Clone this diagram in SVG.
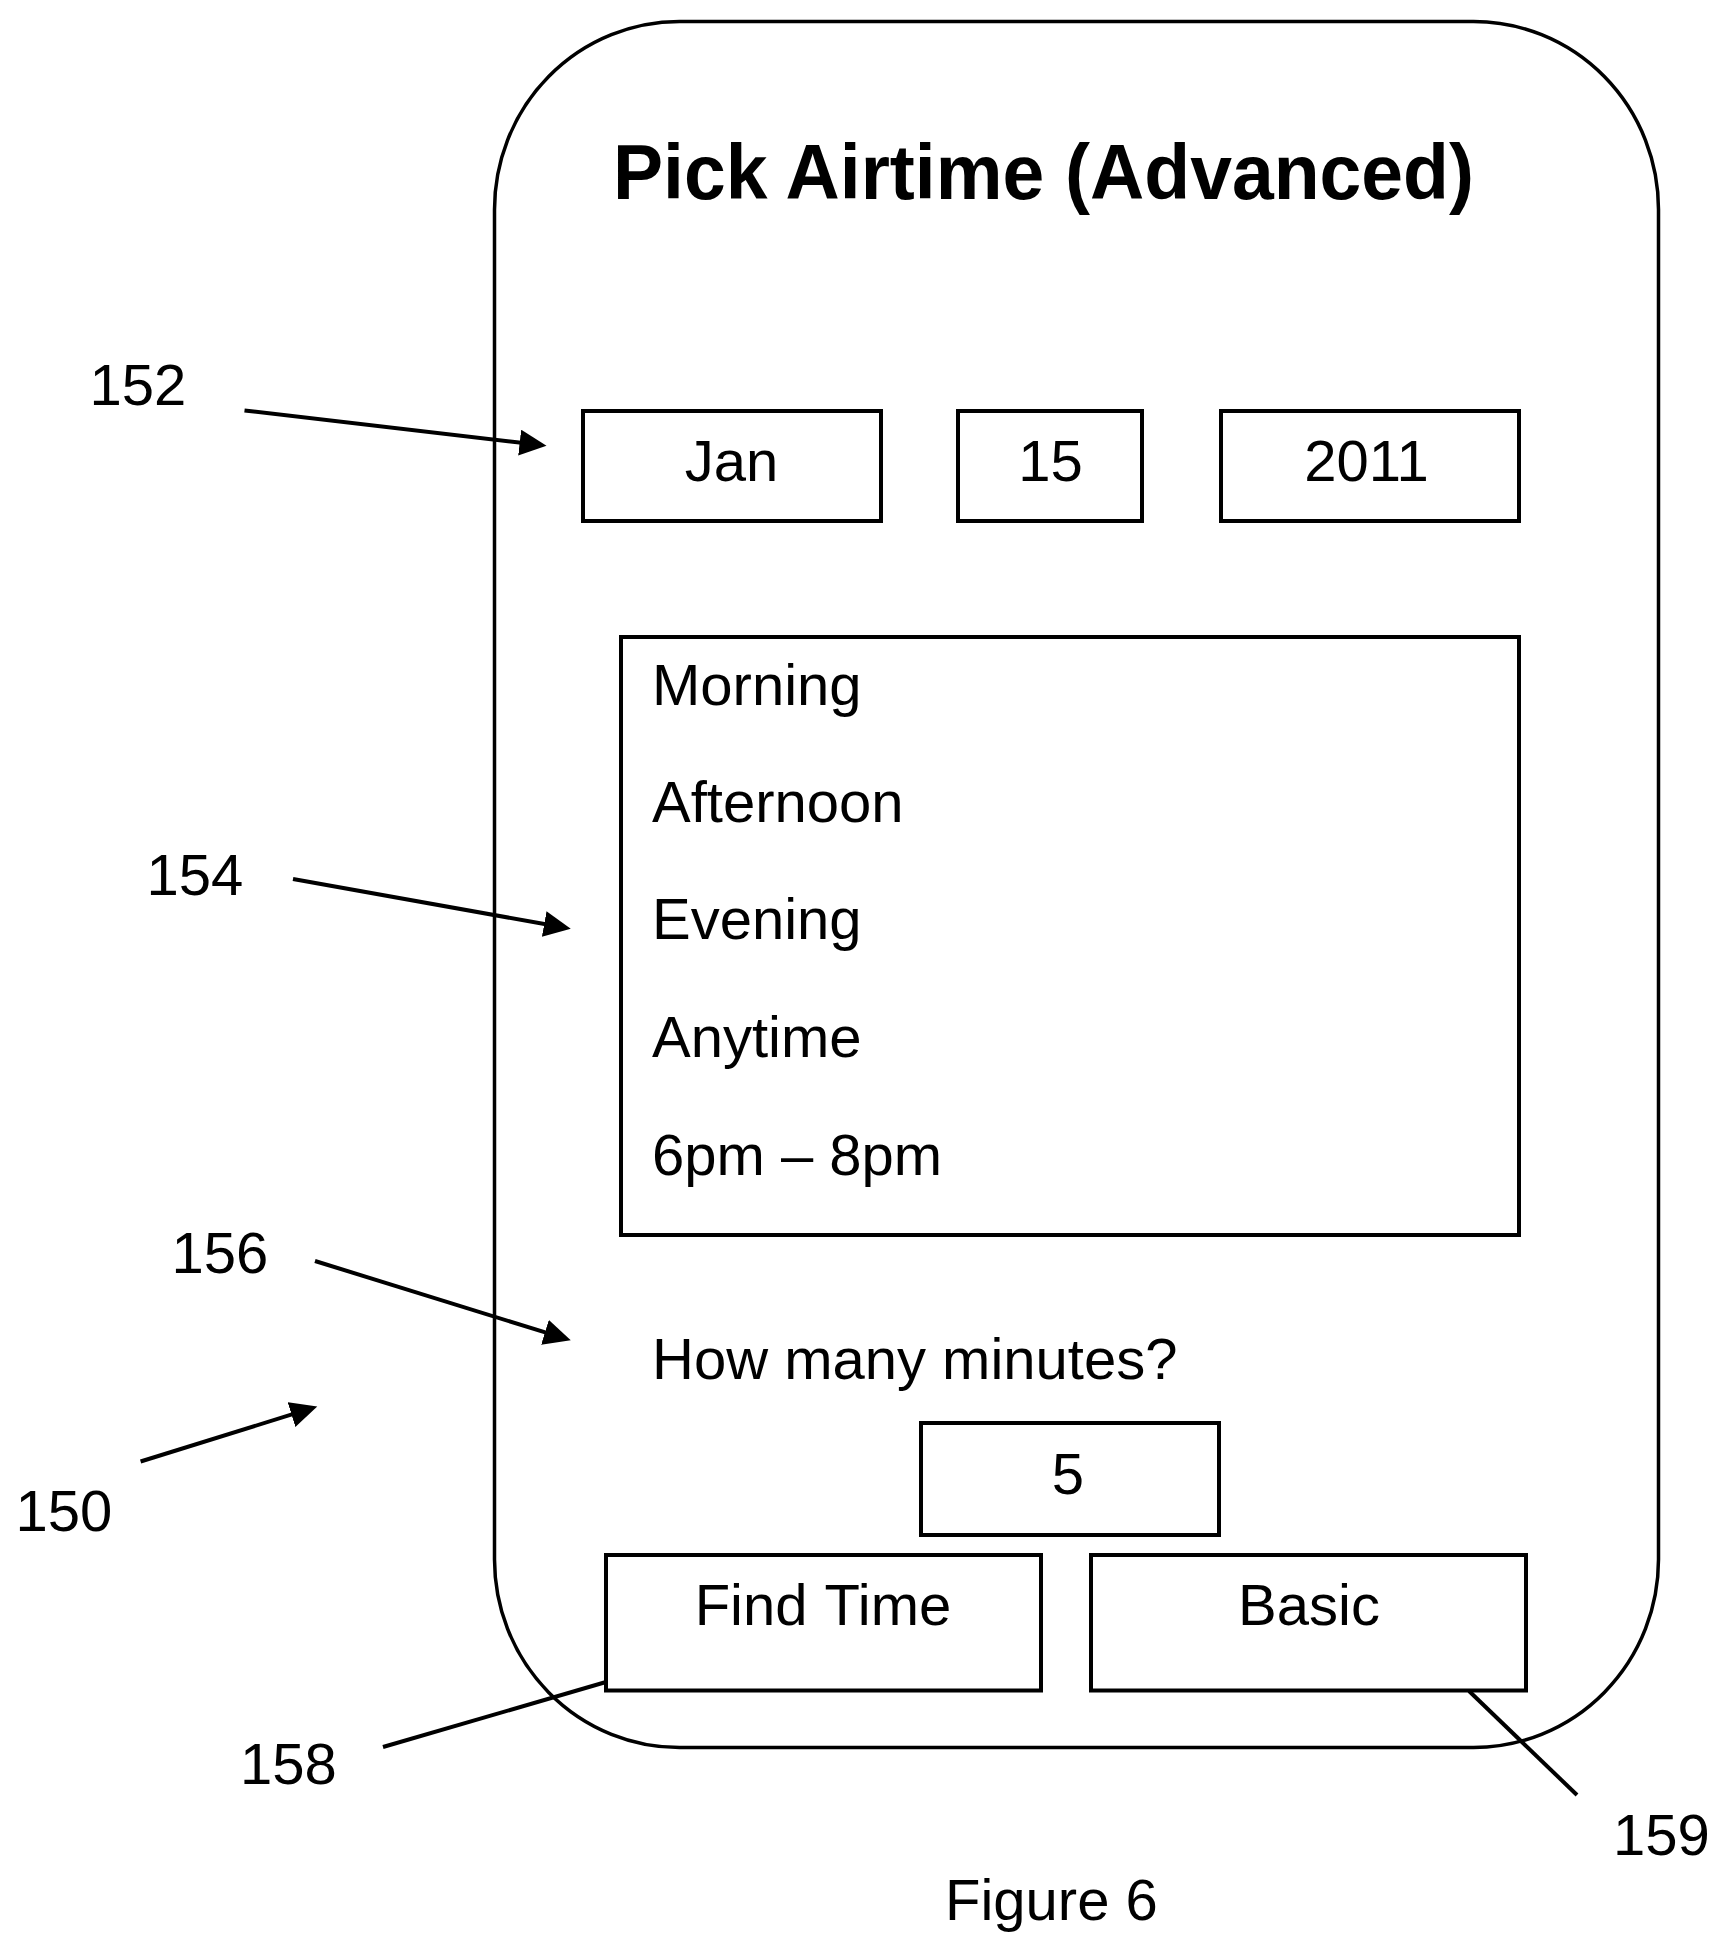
<svg xmlns="http://www.w3.org/2000/svg" width="1728" height="1953" viewBox="0 0 1728 1953">
<style>
text{font-family:"Liberation Sans",Arial,sans-serif;font-size:58px;fill:#000}
.c{text-anchor:middle}
.t{font-weight:bold;font-size:78px}
.b{fill:none;stroke:#000;stroke-width:4}
.o{fill:none;stroke:#000;stroke-width:3.5}
.l{fill:none;stroke:#000;stroke-width:4}
</style>
<defs><marker id="a" markerUnits="userSpaceOnUse" markerWidth="32" markerHeight="30" refX="13" refY="13" orient="auto"><path d="M0,0L27,13L0,26z" fill="#000"/></marker></defs>
<rect width="1728" height="1953" fill="#fff"/>
<g id="phone"><rect class="o" x="494.500" y="21.500" width="1164" height="1726" rx="185" ry="188"/></g>
<g id="title"><text class="t" x="613" y="199" textLength="861" lengthAdjust="spacingAndGlyphs">Pick Airtime (Advanced)</text></g>
<g id="month"><rect class="b" x="583" y="411" width="298" height="110"/><text class="c" x="731.500" y="481">Jan</text></g>
<g id="day"><rect class="b" x="958" y="411" width="184" height="110"/><text class="c" x="1050.500" y="481">15</text></g>
<g id="year"><rect class="b" x="1221" y="411" width="298" height="110"/><text class="c" x="1366.500" y="481">2011</text></g>
<g id="list"><rect class="b" x="621" y="637" width="898" height="598"/>
<text x="652" y="705">Morning</text><text x="652" y="822">Afternoon</text><text x="652" y="939">Evening</text><text x="652" y="1057">Anytime</text><text x="652" y="1175">6pm – 8pm</text></g>
<g id="question"><text x="652" y="1379">How many minutes?</text></g>
<g id="minutes"><rect class="b" x="921" y="1423" width="298" height="112"/><text class="c" x="1068" y="1494">5</text></g>
<g id="findtime"><rect class="b" x="606" y="1555" width="435" height="135.500"/><text class="c" x="823" y="1625" style="word-spacing:2px">Find Time</text></g>
<g id="basic"><rect class="b" x="1091" y="1555" width="435" height="135.500"/><text class="c" x="1309" y="1625">Basic</text></g>
<g id="connectors">
<path class="l" marker-end="url(#a)" d="M244.500,410.400L532.600,444.100"/>
<path class="l" marker-end="url(#a)" d="M293,879L557,926.300"/>
<path class="l" marker-end="url(#a)" d="M315,1261L557.400,1336.200"/>
<path class="l" marker-end="url(#a)" d="M140.600,1461.500L303.900,1410.700"/>
<path class="l" d="M383,1747L606,1682"/>
<path class="l" d="M1469,1691L1577,1795"/>
</g>
<g id="labels">
<text x="89.500" y="405">152</text><text x="146.500" y="895">154</text><text x="171.500" y="1273">156</text><text x="15.500" y="1531">150</text><text x="240" y="1784">158</text><text x="1613" y="1855">159</text><text x="945" y="1920">Figure 6</text>
</g>
</svg>
